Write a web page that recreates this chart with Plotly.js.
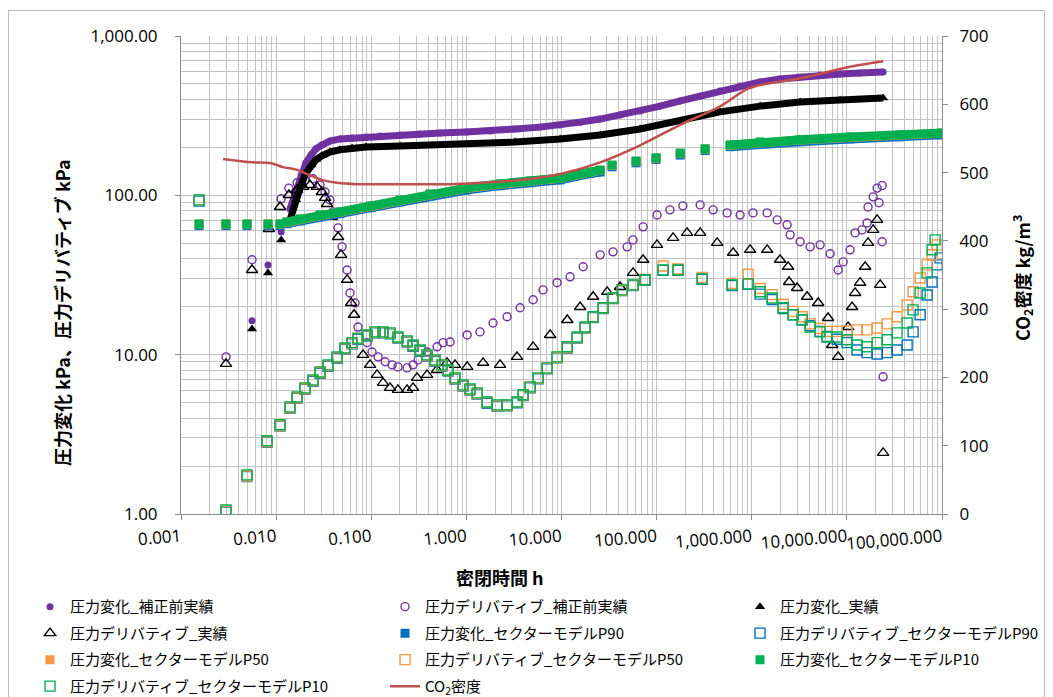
<!DOCTYPE html>
<html><head><meta charset="utf-8">
<script src="https://cdn.plot.ly/plotly-3.0.1.min.js"></script>
<style>
html,body{margin:0;padding:0;background:#fff;}
#frame{position:absolute;left:8px;top:10px;width:1037px;height:700px;border:1px solid #bdbdbd;box-sizing:border-box;}
#chart{position:absolute;left:0;top:0;width:1053px;height:697px;}
</style></head><body>
<div id="frame"></div>
<div id="chart"></div>
<script>
// ---- axis ticks ----
const xTickVals = [0.001,0.01,0.1,1,10,100,1000,10000,100000];
const xTickText = ['0.001','0.010','0.100','1.000','10.000','100.000','1,000.000','10,000.000','100,000.000'];
const yTickVals = [1,10,100,1000];
const yTickText = ['1.00','10.00','100.00','1,000.00'];

// ---- 圧力変化_補正前実績 (purple filled) ----
const tRawP = [0.00558,0.00822,0.0113,0.0140,0.0162,0.0183,0.0206,0.0233,0.0262,0.0303,0.0368,0.0469,0.0628,0.0881,0.124,0.201,0.326,0.529,1.0,1.77,3.25,5.96,9.67,15.7,25.5,41.3,67.0,109,177,287,465,755,1225,1985,3225,5235,8490,13770,24040];
const pRawP = [16.3,36.6,58.9,82.2,108,134,160,179,196,207,219,226,229,232,236,239,243,246,250,253,261,268,276,288,301,319,338,363,391,420,451,485,514,537,553,569,577,585,594];

// ---- 圧力デリバティブ_補正前実績 (purple open) ----
const tDRawP = [0.00297,0.00558,0.0113,0.0136,0.0166,0.0201,0.0244,0.0290,0.0327,0.0368,0.0396,0.0448,0.0493,0.0557,0.0598,0.0676,0.0726,0.0904,0.1019,0.118,0.140,0.1655,0.191,0.238,0.275,0.311,0.386,0.492,0.569,0.674,1.02,1.39,1.91,2.68,3.67,5.03,6.40,8.99,12.3,16.9,25.5,34.8,49.0,56.5,72.1,101,138,189,287,393,551,755,1030,1452,1850,2355,2530,3225,4110,5235,6670,8090,9140,10800,12200,14460,16300,16700,18900,20800,21800,23500,23500,24050];
const pDRawP = [9.69,39.4,95.1,111,120,125,127,116,105,93.5,78.7,62.5,47.5,34.0,24.4,21.1,14.9,11.9,10.4,9.69,9.02,8.63,8.38,8.26,8.63,9.27,10.4,11.2,11.9,12.0,13.3,13.9,15.8,17.3,19.7,22.1,25.5,28.3,30.8,35.6,42.3,44.2,47.5,52.5,63.4,75.3,81.1,85.9,87.1,81.1,77.6,75.3,77.6,77.6,70.1,65.3,56.5,51.1,47.5,48.9,43.0,34.0,38.2,45.5,58.1,60.7,67.1,84.5,97.8,111,89.8,115,51.1,7.26];

// ---- 圧力変化_実績 (black filled triangles) ----
const tRaw = [0.00558,0.00822,0.0113,0.0140,0.0162,0.0183,0.0206,0.0233,0.0262,0.0303,0.0368,0.0469,0.0628,0.0881,0.201,1.0,3.25,9.67,25.5,67.0,177,465,1225,3225,8490,24040];
const pRaw = [14.5,32.6,52.5,70.1,93.7,116,138,155,167,177,187,193,198,201,204,210,216,226,239,261,293,334,363,385,397,408];

// ---- 圧力デリバティブ_実績 (black open triangles) ----
const tDRaw = [0.00297,0.00558,0.00841,0.0110,0.01364,0.0166,0.0192,0.0227,0.0269,0.0303,0.0327,0.0343,0.0387,0.0448,0.0482,0.0557,0.0614,0.0660,0.0820,0.0971,0.115,0.133,0.1575,0.191,0.238,0.275,0.303,0.386,0.492,0.627,0.760,1.02,1.50,2.26,3.41,5.03,7.59,11.5,15.7,21.5,30.2,41.3,56.5,72.1,101,149,209,287,433,637,961,1452,1985,2410,2470,3000,3820,4990,6350,7000,8090,10300,11350,12200,13770,15560,16700,18900,20800,22400,24050];
const pDRaw = [8.76,34.0,61.5,84.5,100.5,108,113,116,113,105,96.4,88.3,73.2,54.8,42.3,29.5,21.1,17.8,9.97,8.63,7.47,6.65,6.19,6.01,6.01,6.19,7.15,7.47,8.02,8.89,8.63,8.38,8.89,8.63,9.69,11.2,13.3,16.5,19.9,23.1,24.8,26.6,32.6,39.4,48.9,54.1,58.1,58.1,50.3,43.6,45.5,45.5,39.4,35.6,28.6,26.2,23.1,21.1,17.0,11.5,9.69,14.9,19.9,24.4,28.3,35.6,50.3,60.7,70.1,27.4,2.42];

// ---- セクターモデル 圧力変化 (P90 / P50 / P10) ----
const tModel = [0.00155,0.00297,0.00494,0.00822,0.0110,0.0130,0.0179,0.0290,0.0469,0.0995,0.201,0.415,1.0,2.26,4.68,9.67,20.0,25.5,34.0,60.8,98.6,177,324,593,1225,3225,10800,36100,100000];
const pModelP90 = [64.6,64.6,64.6,64.6,64.6,66.4,69.3,73.4,76.7,83.7,91.2,99.5,108,115,120,125,137,140,151,160,168,179,191,202,211,217,226,233,240];
const pModelP50 = [66.0,66.0,66.0,66.0,66.0,67.8,70.8,75.0,78.4,85.4,93.1,101.5,110.5,117.5,122.5,128,139.5,143.5,154,163.5,171.5,183.5,195,206,215.5,222.5,231,238,245];
const pModelP10 = [66.2,66.2,66.2,66.2,66.2,68.1,71.1,75.3,78.7,85.8,93.5,102,111,118,123,128.5,140,144,155,164,172,184,196,207,216,223,232,239,246];

// ---- セクターモデル 圧力デリバティブ ----
const tD10 = [0.00155,0.00297,0.00494,0.00802,0.0110,0.0140,0.0166,0.0201,0.0244,0.0290,0.0352,0.0437,0.0530,0.0628,0.0726,0.0904,0.1096,0.133,0.1575,0.191,0.238,0.275,0.326,0.386,0.469,0.555,0.642,0.760,0.923,1.09,1.30,1.65,2.10,2.68,3.41,3.95,4.68,5.67,7.06,8.99,11.5,14.6,17.7,21.5,27.4,34.8,43.4,56.5,75.5,117,168,301,622,917,1225,1640,2140,2725,3390,4110,5235,6200,7890,10050,12800,16300,20800,26500,33700,43000,49700,58900,69700,78700,84700];
const pD10 = [93.6,1.06,1.76,2.88,3.63,4.70,5.43,6.19,6.95,7.80,8.63,9.69,11.0,11.9,12.7,13.3,13.9,13.9,13.7,12.9,12.2,11.5,10.7,9.97,9.27,8.63,8.02,7.15,6.46,6.10,5.76,5.05,4.84,4.84,5.05,5.60,6.28,7.15,8.26,9.69,11.2,12.9,14.9,17.3,19.7,22.7,25.5,27.4,29.5,34.0,34.0,29.9,27.4,27.8,24.8,22.7,19.7,17.8,16.5,14.9,13.9,12.9,12.9,12.4,11.5,11.2,11.9,12.4,13.7,15.8,19.1,24.4,32.6,45.5,52.5];
const tD50 = [0.00155,0.00297,0.00494,0.00802,0.0110,0.0140,0.0166,0.0201,0.0244,0.0290,0.0352,0.0437,0.0530,0.0628,0.0726,0.0904,0.1096,0.133,0.1575,0.191,0.238,0.275,0.326,0.386,0.469,0.555,0.642,0.760,0.923,1.09,1.30,1.65,2.10,2.68,3.41,3.95,4.68,5.67,7.06,8.99,11.5,14.6,17.7,21.5,27.4,34.8,43.4,56.5,75.5,117,168,301,622,917,1225,1640,2140,2725,3390,4110,5235,6200,7890,10050,12800,16300,20800,26500,33700,43000,49700,58900,69700,78700,89100];
const pD50 = [93.6,1.04,1.73,2.84,3.58,4.64,5.36,6.11,6.87,7.71,8.53,9.58,10.9,11.8,12.6,13.2,13.8,13.8,13.6,12.8,12.1,11.4,10.6,9.88,9.19,8.56,7.95,7.08,6.40,6.05,5.70,5.00,4.80,4.82,5.03,5.58,6.25,7.10,8.20,9.60,11.1,12.8,14.8,17.2,19.6,22.5,25.3,27.3,29.6,36.0,34.5,30.5,28.0,32.0,26.0,23.8,20.7,18.7,17.3,15.6,14.6,14.0,14.0,14.1,14.3,14.3,14.7,15.6,17.3,20.5,24.8,30.3,36.6,42.4,48.9];
const tD90 = [0.00155,0.00297,0.00494,0.00802,0.0110,0.0140,0.0166,0.0201,0.0244,0.0290,0.0352,0.0437,0.0530,0.0628,0.0726,0.0904,0.1096,0.133,0.1575,0.191,0.238,0.275,0.326,0.386,0.469,0.555,0.642,0.760,0.923,1.09,1.30,1.65,2.10,2.68,3.41,3.95,4.68,5.67,7.06,8.99,11.5,14.6,17.7,21.5,27.4,34.8,43.4,56.5,75.5,117,168,301,622,917,1225,1640,2140,2725,3390,4110,5235,6200,7890,10050,12800,16300,20800,26500,33700,43000,49700,58900,69700,78700,89100,95500];
const pD90 = [92.0,1.03,1.72,2.82,3.56,4.61,5.32,6.07,6.81,7.64,8.46,9.50,10.8,11.7,12.5,13.1,13.7,13.7,13.5,12.7,12.0,11.3,10.5,9.80,9.10,8.48,7.88,7.02,6.35,5.99,5.66,4.96,4.76,4.77,4.98,5.53,6.20,7.06,8.15,9.55,11.0,12.7,14.7,17.1,19.5,22.5,25.3,27.2,29.3,33.8,33.8,29.7,27.2,27.6,24.0,22.2,19.5,17.8,16.6,15.2,14.0,13.0,12.5,11.9,10.7,10.3,10.1,10.3,10.7,11.5,13.9,17.8,23.7,28.6,36.6,40.5];

// ---- CO2密度 (right axis) ----
const tCO2 = [0.00277,0.00571,0.00863,0.0118,0.0166,0.0227,0.0310,0.0437,0.0708,0.201,0.674,1.39,3.67,9.67,25.5,67.0,177,465,961,3225,10800,24050];
const dCO2 = [520,515,514,508,504,496,489,485,483,483,483,485,489,498,515,540,570,597,624,638,655,663];

// ---- colours ----
const PURPLE = '#7030A0', BLACK = '#000000', BLUE = '#0070C0', ORANGE = '#F79646', GREEN = '#00B050', RED = '#C0504D';

function minorVals(lo, hi) {
  const v = [];
  for (let e = lo; e < hi; e++) for (let m = 2; m <= 9; m++) v.push(m * Math.pow(10, e));
  return v;
}
function band(t, v, from, to, color, width) {
  return {x: t.slice(from, to), y: v.slice(from, to), type: 'scatter', mode: 'lines',
    line: {color: color, width: width}, showlegend: false, hoverinfo: 'skip'};
}
function pts(name, t, v, symbol, color, size, leg, grp, open) {
  const m = {symbol: symbol, size: size, color: color};
  if (open) m.line = {color: color, width: 1.4};
  return {x: t, y: v, type: 'scatter', mode: 'markers', name: name, marker: m,
    legend: leg, legendgroup: grp};
}

const traces = [
  band(tRawP, pRawP, 3, tRawP.length, PURPLE, 7),
  pts('圧力変化_補正前実績', tRawP, pRawP, 'circle', PURPLE, 7, 'legend', 'g1', false),
  pts('圧力デリバティブ_補正前実績', tDRawP, pDRawP, 'circle-open', PURPLE, 8, 'legend2', 'g2', true),
  band(tRaw, pRaw, 3, tRaw.length, BLACK, 7),
  pts('圧力変化_実績', tRaw, pRaw, 'triangle-up', BLACK, 9, 'legend3', 'g3', false),
  pts('圧力デリバティブ_実績', tDRaw, pDRaw, 'triangle-up-open', BLACK, 10, 'legend', 'g4', true),
  band(tModel, pModelP90, 5, 18, BLUE, 9), band(tModel, pModelP90, 23, tModel.length, BLUE, 9),
  pts('圧力変化_セクターモデルP90', tModel, pModelP90, 'square', BLUE, 9, 'legend2', 'g5', false),
  pts('圧力デリバティブ_セクターモデルP90', tD90, pD90, 'square-open', BLUE, 10, 'legend3', 'g6', true),
  band(tModel, pModelP50, 5, 18, ORANGE, 9), band(tModel, pModelP50, 23, tModel.length, ORANGE, 9),
  pts('圧力変化_セクターモデルP50', tModel, pModelP50, 'square', ORANGE, 9, 'legend', 'g7', false),
  pts('圧力デリバティブ_セクターモデルP50', tD50, pD50, 'square-open', ORANGE, 10, 'legend2', 'g8', true),
  band(tModel, pModelP10, 5, 18, GREEN, 9), band(tModel, pModelP10, 23, tModel.length, GREEN, 9),
  pts('圧力変化_セクターモデルP10', tModel, pModelP10, 'square', GREEN, 9, 'legend3', 'g9', false),
  pts('圧力デリバティブ_セクターモデルP10', tD10, pD10, 'square-open', GREEN, 10, 'legend', 'g10', true),
  {x: tCO2, y: dCO2, type: 'scatter', mode: 'lines', name: 'CO<sub>2</sub>密度', yaxis: 'y2',
    line: {color: RED, width: 2.5, shape: 'spline'}, legend: 'legend2', legendgroup: 'g11'}
];

const GRID = '#c3c3c3', AXL = '#8c8c8c';
const tickFont = {family: '"Open Sans", "Liberation Sans", sans-serif', size: 17, color: '#000'};
const legBase = {orientation: 'v', xanchor: 'left', yanchor: 'top', y: -0.1598,
  bgcolor: 'rgba(0,0,0,0)', borderwidth: 0, tracegroupgap: 4, traceorder: 'grouped',
  font: {family: '"Noto Sans CJK JP", sans-serif', size: 15, color: '#000'}};
const titleFont = {family: '"Noto Sans CJK JP", sans-serif', size: 18, color: '#000'};

const layout = {
  width: 1053, height: 697,
  margin: {l: 181, r: 111, t: 36, b: 183, autoexpand: false},
  paper_bgcolor: 'rgba(0,0,0,0)', plot_bgcolor: 'rgba(0,0,0,0)',
  showlegend: true,
  xaxis: {type: 'log', range: [-3, 5], tickmode: 'array', tickvals: xTickVals, ticktext: xTickText,
    tickangle: -5, tickfont: tickFont, showgrid: true, gridcolor: GRID, gridwidth: 1,
    minor: {tickmode: 'array', tickvals: minorVals(-3, 5), showgrid: true, gridcolor: GRID, gridwidth: 1, ticks: ''},
    showline: true, linecolor: AXL, linewidth: 1, ticks: 'outside', ticklen: 5, tickcolor: AXL,
    zeroline: false, ticklabelstandoff: 1},
  yaxis: {type: 'log', range: [0, 3], tickmode: 'array', tickvals: yTickVals, ticktext: yTickText,
    tickfont: tickFont, showgrid: true, gridcolor: GRID, gridwidth: 1,
    minor: {tickmode: 'array', tickvals: minorVals(0, 3), showgrid: true, gridcolor: GRID, gridwidth: 1, ticks: ''},
    showline: true, linecolor: AXL, linewidth: 1, ticks: 'outside', ticklen: 5, tickcolor: AXL,
    zeroline: false, ticklabelstandoff: 14},
  yaxis2: {overlaying: 'y', side: 'right', range: [0, 700], tickmode: 'linear', tick0: 0, dtick: 100,
    tickfont: tickFont, showgrid: false, showline: true, linecolor: AXL, linewidth: 1,
    ticks: 'outside', ticklen: 5, tickcolor: AXL, zeroline: false, ticklabelstandoff: 8},
  legend: Object.assign({}, legBase, {x: -0.1984}),
  legend2: Object.assign({}, legBase, {x: 0.2681}),
  legend3: Object.assign({}, legBase, {x: 0.7346}),
  annotations: [
    {text: '<b>密閉時間 h</b>', xref: 'paper', yref: 'paper', x: 0.419, y: -0.1318,
      xanchor: 'center', yanchor: 'middle', showarrow: false, font: titleFont},
    {text: '<b>圧力変化 kPa、圧力デリバティブ kPa</b>', xref: 'paper', yref: 'paper', x: -0.1564, y: 0.4226,
      xanchor: 'center', yanchor: 'middle', textangle: -90, showarrow: false, font: titleFont},
    {text: '<b>CO<sub>2</sub>密度 kg/m<sup>3</sup></b>', xref: 'paper', yref: 'paper', x: 1.1051, y: 0.4937,
      xanchor: 'center', yanchor: 'middle', textangle: -90, showarrow: false, font: titleFont}
  ]
};

Plotly.newPlot('chart', traces, layout, {displayModeBar: false, staticPlot: true});
</script></body></html>
